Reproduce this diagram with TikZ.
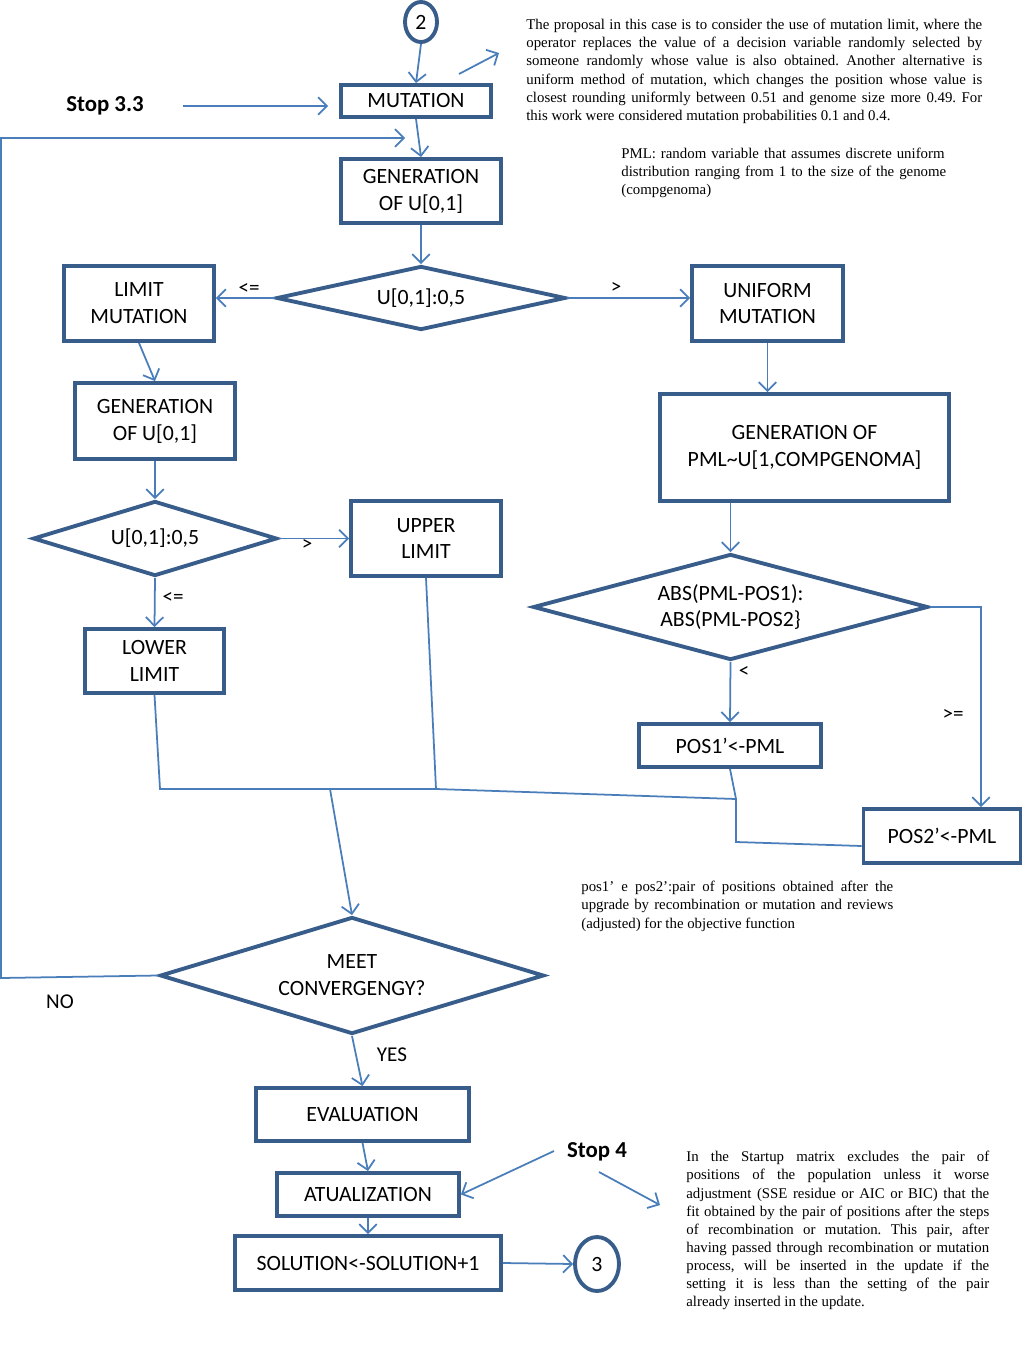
\documentclass[tikz,border=0pt]{standalone}
\usepackage{xcolor}
\usepackage{fontspec}
\setmainfont{Carlito}
\newfontfamily\notefont{Liberation Serif}
\usepackage{tikz}
\usetikzlibrary{shapes.geometric,arrows.meta}
\definecolor{boxblue}{RGB}{56,93,138}
\definecolor{lineblue}{RGB}{74,126,187}
\frenchspacing
\tikzset{
  box/.style={draw=boxblue, line width=2.2pt, align=center, inner sep=0pt,
    font=\fontsize{12.4}{15.3}\selectfont},
  decision/.style={box, diamond, aspect=3},
  term/.style={box, ellipse},
  link/.style={draw=lineblue, line width=1pt, -{Straight Barb[length=5pt,width=10pt]}},
  wire/.style={draw=lineblue, line width=1pt},
  lab/.style={inner sep=0pt, font=\fontsize{12}{14}\selectfont},
  stoplab/.style={inner sep=0pt, font=\fontsize{13}{15}\selectfont\bfseries},
  note/.style={inner sep=0pt, anchor=north west, align=justify,
    font=\notefont\fontsize{8.45}{10.3}\selectfont},
}

\begin{document}
\begin{tikzpicture}[x=0.02cm,y=-0.02cm]
            \fill[white] (0,0) rectangle (1024,1365);
            \useasboundingbox (0,0) rectangle (1024,1365);

            \node[term, minimum width=0.64cm, minimum height=0.8cm] (c2) at (421,22) {2};
            \node[box, minimum width=3cm, minimum height=0.64cm] (mut) at (416,101) {MUTATION};
            \node[box, minimum width=3.2cm, minimum height=1.28cm] (gen1) at (421,191) {GENERATION\\OF U[0,1]};
            \node[decision, minimum width=5.78cm, minimum height=1.28cm] (dec1) at (421,298) {U[0,1]:0,5};
            \node[box, minimum width=3cm, minimum height=1.5cm] (limmut) at (139,303.5) {LIMIT\\MUTATION};
            \node[box, minimum width=3.02cm, minimum height=1.5cm] (unimut) at (767.5,303.5) {UNIFORM\\MUTATION};
            \node[box, minimum width=3.2cm, minimum height=1.52cm] (gen2) at (155,421) {GENERATION\\OF U[0,1]};
            \node[box, minimum width=5.78cm, minimum height=2.14cm] (genpml) at (804.5,447.5) {GENERATION OF\\PML\textasciitilde U[1,COMPGENOMA]};
            \node[decision, minimum width=4.88cm, minimum height=1.5cm] (dec2) at (155,538.5) {U[0,1]:0,5};
            \node[box, minimum width=3cm, minimum height=1.5cm] (upper) at (426,538.5) {UPPER\\LIMIT};
            \node[decision, aspect=3.7, minimum width=7.9cm, minimum height=2.12cm] (dec3) at (730.5,607) {ABS(PML-POS1):\\ABS(PML-POS2\}};
            \node[box, minimum width=2.78cm, minimum height=1.28cm] (lower) at (154.5,661) {LOWER\\LIMIT};
            \node[box, minimum width=3.64cm, minimum height=0.86cm] (pos1) at (730,745.5) {POS1’<-PML};
            \node[box, minimum width=3.14cm, minimum height=1.08cm] (pos2) at (942,836) {POS2’<-PML};
            \node[decision, minimum width=7.68cm, minimum height=2.34cm] (meet) at (352,975.5) {MEET\\CONVERGENGY?};
            \node[box, minimum width=4.26cm, minimum height=1.06cm] (eval) at (362.5,1114.5) {EVALUATION};
            \node[box, minimum width=3.64cm, minimum height=0.86cm] (atual) at (368,1194.5) {ATUALIZATION};
            \node[box, minimum width=5.32cm, minimum height=1.08cm] (sol) at (368,1263) {SOLUTION<-SOLUTION+1};
            \node[term, minimum width=0.88cm, minimum height=1.08cm] (c3) at (597,1264) {3};

            \node[stoplab] (stop33) at (105,106) {Stop 3.3};
            \node[stoplab] (stop4) at (597,1152) {Stop 4};

            \node[lab] (le1) at (249,289) {<=};
            \node[lab] (gt1) at (616,288) {>};
            \node[lab] (gt2) at (307,545) {>};
            \node[lab] (le2) at (173,598) {<=};
            \node[lab] (lt3) at (744,672) {<};
            \node[lab] (ge3) at (953,715) {>=};
            \node[lab] (yes) at (392,1055) {YES};
            \node[lab] (no) at (60,1002) {NO};

            \node[note, text width=9.12cm] (note1) at (526,19) {The proposal in this case is to consider the use of mutation limit, where the\linebreak
              operator replaces the value of a decision variable randomly selected by\linebreak
              someone randomly whose value is also obtained. Another alternative is\linebreak
              uniform method of mutation, which changes the position whose value is\linebreak
              closest rounding uniformly between 0.51 and genome size more 0.49. For\linebreak
              this work were considered mutation probabilities 0.1 and 0.4.};
            \node[note, text width=6.8cm, align=left] (note2) at (621,148) {PML: random variable that assumes discrete uniform\\
              distribution ranging from 1 to the size of the genome\\
              (compgenoma)};
            \node[note, text width=6.24cm] (note3) at (581,881) {pos1’ e pos2’:pair of positions obtained after the\linebreak
              upgrade by recombination or mutation and reviews\linebreak
              (adjusted) for the objective function};
            \node[note, text width=6.06cm] (note4) at (686,1151) {In the Startup matrix excludes the pair of\linebreak
              positions of the population unless it worse\linebreak
              adjustment (SSE residue or AIC or BIC) that the\linebreak
              fit obtained by the pair of positions after the steps\linebreak
              of recombination or mutation. This pair, after\linebreak
              having passed through recombination or mutation\linebreak
              process, will be inserted in the update if the\linebreak
              setting it is less than the setting of the pair\linebreak
              already inserted in the update.};

            \coordinate (p1) at (459,74);
            \coordinate (p2) at (499,53);
            \coordinate (s33) at (183,106);
            \coordinate (lp1) at (1,978);
            \coordinate (lp2) at (1,138);
            \coordinate (lp3) at (405,138);
            \coordinate (rt) at (981,607);
            \coordinate (m1) at (160,789);
            \coordinate (m2) at (436,789);
            \coordinate (mc) at (330,789);
            \coordinate (m3) at (736,799);
            \coordinate (m4) at (736,842);
            \coordinate (s4in) at (554,1151);
            \coordinate (s4o1) at (599,1172);
            \coordinate (s4o2) at (660,1205);

            \draw[link] (c2.south) -- (mut.north);
            \draw[link] (p1) -- (p2);
            \draw[link] (s33) -- ([xshift=-0.22cm]mut.west |- s33);
            \draw[link] (mut.south) -- (gen1.north);
            \draw[link] (meet.west) -- (lp1) -- (lp2) -- (lp3);
            \draw[link] (gen1.south) -- (dec1.north);
            \draw[link] (dec1.west) -- (dec1.west -| limmut.east);
            \draw[link] (dec1.east) -- (dec1.east -| unimut.west);
            \draw[link] (limmut.south) -- (gen2.north);
            \draw[link] (gen2.south) -- (dec2.north);
            \draw[link] (dec2.east) -- (upper.west);
            \draw[link] (dec2.south) -- (lower.north);
            \draw[link] (unimut.south) -- (unimut.south |- genpml.north);
            \draw[link] (dec3.north |- genpml.south) -- (dec3.north);
            \draw[link] (dec3.south) -- (pos1.north);
            \draw[link] (dec3.east) -- (rt) -- (rt |- pos2.north);

            \draw[wire] (lower.south) -- (m1) -- (m2) -- (m3) -- (m4) -- ([yshift=-0.2cm]pos2.west);
            \draw[wire] (upper.south) -- (m2);
            \draw[wire] (pos1.south) -- (m3);
            \draw[link] (mc) -- (meet.north);

            \draw[link] (meet.south) -- (eval.north);
            \draw[link] (eval.south) -- (atual.north);
            \draw[link] (atual.south) -- (sol.north);
            \draw[link] (sol.east) -- (c3.west);
            \draw[link] (s4in) -- (atual.east);
            \draw[link] (s4o1) -- (s4o2);
         \end{tikzpicture}
\end{document}
